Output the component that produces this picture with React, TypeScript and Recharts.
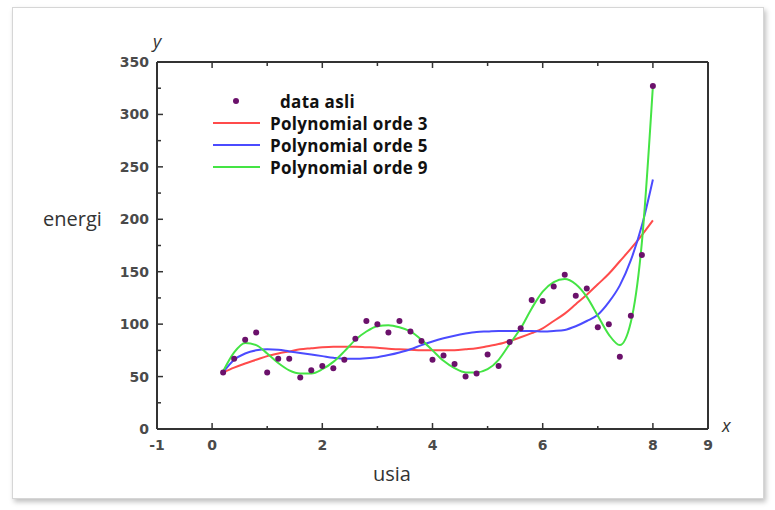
import React from "react";
import { ComposedChart, Line, Scatter, XAxis, YAxis } from "recharts";

// x values (usia) shared by the data points and the fitted curves
const usia = [
  0.2, 0.4, 0.6, 0.8, 1.0, 1.2, 1.4, 1.6, 1.8, 2.0,
  2.2, 2.4, 2.6, 2.8, 3.0, 3.2, 3.4, 3.6, 3.8, 4.0,
  4.2, 4.4, 4.6, 4.8, 5.0, 5.2, 5.4, 5.6, 5.8, 6.0,
  6.2, 6.4, 6.6, 6.8, 7.0, 7.2, 7.4, 7.6, 7.8, 8.0,
];

const dataAsli = [
  54, 67, 85, 92, 54, 67, 67, 49, 56, 60,
  58, 66, 86, 103, 100, 92, 103, 93, 84, 66,
  70, 62, 50, 53, 71, 60, 83, 96, 123, 122,
  136, 147, 127, 134, 97, 100, 69, 108, 166, 327,
];

const orde3 = [
  54, 58.5, 62.5, 66, 69.5, 72, 74, 76, 77, 78,
  78.5, 78.5, 78.5, 78, 77.5, 76.5, 76, 75.5, 75, 75,
  75, 75.2, 76, 77, 79, 81, 84, 87.5, 91.5, 96,
  103, 110, 119, 128, 138, 148, 160, 172, 185, 199,
];

const orde5 = [
  54, 66, 72, 75, 76, 75.5, 74, 72.5, 71, 69.5,
  68, 67, 67, 67.5, 68.5, 70.5, 73, 76, 80, 83.5,
  86.5, 89, 91, 92.5, 93, 93.5, 93.5, 93.5, 93.5, 93,
  93.5, 94.5, 98, 103, 109, 121, 137, 161, 194, 238,
];

const orde9 = [
  55, 73, 82, 80, 72, 63, 56, 53, 53, 57,
  64, 74, 85, 93, 98, 99, 97, 93, 85, 75,
  65, 58, 54, 54, 57, 66, 81, 96, 115, 131,
  140, 143, 138, 126, 108, 90, 80, 102, 178, 327,
];

const xTicks = [-1, 0, 1, 2, 3, 4, 5, 6, 7, 8, 9];
const xLabels = [-1, 0, 2, 4, 6, 8, 9];
const yTicks = [0, 25, 50, 75, 100, 125, 150, 175, 200, 225, 250, 275, 300, 325, 350];

const rows = usia.map((x, i) => ({
  x,
  asli: dataAsli[i],
  o3: orde3[i],
  o5: orde5[i],
  o9: orde9[i],
}));

const TICK_FONT = { fontFamily: "'DejaVu Sans', sans-serif", fontSize: 14, fontWeight: 700, fill: "#4a4a4a" };

const BottomTick = (props: any) => {
  const { x, y, payload } = props;
  const v = payload.value;
  const len = v % 2 === 0 ? 6 : 3;
  const edge = v === -1 || v === 9;
  return (
    <g>
      {!edge && <line x1={x} y1={y} x2={x} y2={y - len} stroke="#333" strokeWidth={1.5} />}
      {xLabels.includes(v) && (
        <text x={x} y={y + 21} textAnchor="middle" {...TICK_FONT}>
          {v}
        </text>
      )}
    </g>
  );
};

const TopTick = (props: any) => {
  const { x, y, payload } = props;
  const v = payload.value;
  if (v === -1 || v === 9) return <g />;
  const len = v % 2 === 0 ? 6 : 4;
  return <line x1={x} y1={y} x2={x} y2={y + len} stroke="#333" strokeWidth={1.5} />;
};

const LeftTick = (props: any) => {
  const { x, y, payload } = props;
  const v = payload.value;
  const len = v % 50 === 0 ? 6 : 4;
  return (
    <g>
      {v !== 0 && v !== 350 && <line x1={x} y1={y} x2={x + len} y2={y} stroke="#333" strokeWidth={1.5} />}
      {v % 50 === 0 && (
        <text x={x - 8} y={y} dy="0.36em" textAnchor="end" {...TICK_FONT}>
          {v}
        </text>
      )}
    </g>
  );
};

const RightTick = (props: any) => {
  const { x, y, payload } = props;
  const v = payload.value;
  if (v === 0 || v === 350) return <g />;
  const len = v % 50 === 0 ? 6 : 4;
  return <line x1={x} y1={y} x2={x - len} y2={y} stroke="#333" strokeWidth={1.5} />;
};

const legendItems = [
  { label: "data asli", kind: "dot", color: "#6b116b" },
  { label: "Polynomial orde 3", kind: "line", color: "#ff4b4b" },
  { label: "Polynomial orde 5", kind: "line", color: "#4b4bff" },
  { label: "Polynomial orde 9", kind: "line", color: "#44e444" },
];

const ChartLegend = () => (
  <div
    style={{
      position: "absolute",
      left: 210,
      top: 90,
      fontFamily: "'Open Sans', sans-serif",
      fontWeight: 700,
      fontSize: 17,
      color: "#111",
    }}
  >
    {legendItems.map((it) => (
      <div key={it.label} style={{ display: "flex", alignItems: "center", height: 22 }}>
        <svg width={60} height={22}>
          {it.kind === "dot" ? (
            <circle cx={26} cy={11} r={3} fill={it.color} />
          ) : (
            <line x1={3} y1={11} x2={50} y2={11} stroke={it.color} strokeWidth={2} />
          )}
        </svg>
        <span style={{ marginLeft: it.kind === "dot" ? 10 : 0, letterSpacing: 0.3 }}>{it.label}</span>
      </div>
    ))}
  </div>
);

const Dot = (props: any) => {
  const { cx, cy } = props;
  return <circle cx={cx} cy={cy} r={3} fill="#6b116b" />;
};

const labelStyle: React.CSSProperties = {
  position: "absolute",
  fontFamily: "'Open Sans', sans-serif",
  color: "#333",
  lineHeight: 1,
};

export default function App() {
  return (
    <div style={{ position: "absolute", left: 0, top: 0, width: 775, height: 510, background: "#fff" }}>
      <div
        style={{
          position: "absolute",
          left: 12,
          top: 7,
          width: 750,
          height: 490,
          border: "1px solid #d6d6d6",
          boxShadow: "2px 3px 5px rgba(0,0,0,0.25)",
        }}
      />
      <ComposedChart
        width={775}
        height={510}
        data={rows}
        margin={{ top: 52, right: 57, bottom: 51, left: 117 }}
        style={{ position: "absolute", left: 0, top: 0 }}
      >
        <XAxis
          xAxisId="b"
          dataKey="x"
          type="number"
          domain={[-1, 9]}
          ticks={xTicks}
          interval={0}
          height={30}
          tickSize={0}
          tickMargin={0}
          tickLine={false}
          tick={<BottomTick />}
          axisLine={{ stroke: "#333", strokeWidth: 2 }}
        />
        <XAxis
          xAxisId="t"
          dataKey="x"
          type="number"
          orientation="top"
          domain={[-1, 9]}
          ticks={xTicks}
          interval={0}
          height={10}
          tickSize={0}
          tickMargin={0}
          tickLine={false}
          tick={<TopTick />}
          axisLine={{ stroke: "#333", strokeWidth: 2 }}
        />
        <YAxis
          yAxisId="l"
          type="number"
          domain={[0, 350]}
          ticks={yTicks}
          interval={0}
          width={40}
          tickSize={0}
          tickMargin={0}
          tickLine={false}
          tick={<LeftTick />}
          axisLine={{ stroke: "#333", strokeWidth: 2 }}
        />
        <YAxis
          yAxisId="r"
          orientation="right"
          type="number"
          domain={[0, 350]}
          ticks={yTicks}
          interval={0}
          width={10}
          tickSize={0}
          tickMargin={0}
          tickLine={false}
          tick={<RightTick />}
          axisLine={{ stroke: "#333", strokeWidth: 2 }}
        />
        <Line xAxisId="b" yAxisId="l" type="monotone" dataKey="o3" stroke="#ff4b4b" strokeWidth={2} dot={false} isAnimationActive={false} />
        <Line xAxisId="b" yAxisId="l" type="monotone" dataKey="o5" stroke="#4b4bff" strokeWidth={2} dot={false} isAnimationActive={false} />
        <Line xAxisId="b" yAxisId="l" type="monotone" dataKey="o9" stroke="#44e444" strokeWidth={2} dot={false} isAnimationActive={false} />
        <Scatter xAxisId="b" yAxisId="l" dataKey="asli" shape={<Dot />} isAnimationActive={false} />
      </ComposedChart>
      <ChartLegend />
      <div style={{ ...labelStyle, left: 153, top: 32, fontStyle: "italic", fontSize: 18 }}>y</div>
      <div style={{ ...labelStyle, left: 722, top: 416, fontStyle: "italic", fontSize: 18 }}>x</div>
      <div style={{ ...labelStyle, left: 43, top: 209, fontSize: 20 }}>energi</div>
      <div style={{ ...labelStyle, left: 373, top: 464, fontSize: 20 }}>usia</div>
    </div>
  );
}
